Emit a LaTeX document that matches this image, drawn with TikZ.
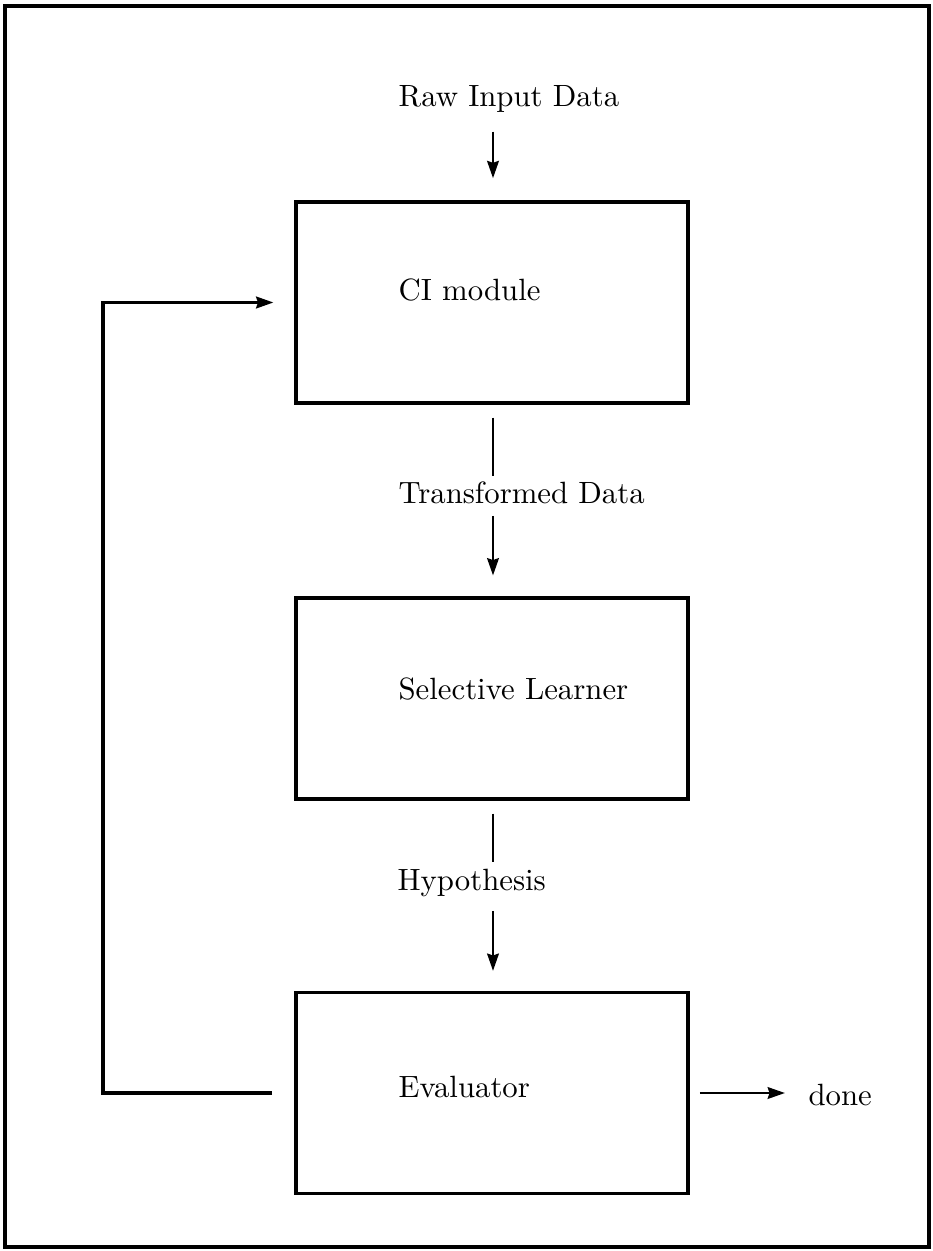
\documentclass[tikz,border=0pt]{standalone}
\usetikzlibrary{arrows.meta,calc}
\begin{document}
\begin{tikzpicture}[x=0.325pt,y=-0.325pt,
  box/.style={draw,line width=1.1pt,minimum width=127.4pt,minimum height=65.3pt,inner sep=0pt},
  lbl/.style={inner sep=0pt,anchor=base west,font=\fontsize{10}{12}\selectfont},
  conn/.style={line width=0.8pt},
  arr/.style={line width=0.8pt,-{Stealth[length=5.6pt,width=3.8pt,inset=0.6pt]}},
  frame/.style={line width=1pt}]
\useasboundingbox (0,0) rectangle (932,1251);
\draw[frame] (5,6) rectangle (929,1247);
% boxes
\node[box] (ci) at (492,302.5) {};
\node[box] (sl) at (492,698.5) {};
\node[box] (ev) at (492,1093) {};
% box labels
\node[lbl] (cil) at (398,301) {CI module};
\node[lbl] (sll) at (398,699) {Selective Learner};
\node[lbl] (evl) at (398,1097) {Evaluator};
% flow labels
\node[lbl] (raw) at (398,107) {Raw Input Data};
\node[lbl] (td) at (398,503) {Transformed Data};
\node[lbl] (hyp) at (397,890) {Hypothesis};
\node[lbl] (done) at (808,1105) {done};
% helper coordinates
\coordinate (ax) at (493,0);
\coordinate (fb) at (103,0);
% connectors
\draw[arr,shorten <=5.9pt,shorten >=7.2pt] (raw.south -| ax) -- (ci.north -| ax);
\draw[conn,shorten <=4.2pt,shorten >=1.5pt] (ci.south -| ax) -- (td.north -| ax);
\draw[arr,shorten <=3.9pt,shorten >=6.8pt] (td.south -| ax) -- (sl.north -| ax);
\draw[conn,shorten <=4.2pt,shorten >=2.1pt] (sl.south -| ax) -- (hyp.north -| ax);
\draw[arr,shorten <=4.5pt,shorten >=6.5pt] (hyp.south -| ax) -- (ev.north -| ax);
\draw[arr,shorten <=3.3pt,shorten >=7.5pt] (ev.east) -- (ev.east -| done.west);
\draw[arr,line width=1pt,shorten <=7.2pt,shorten >=6.8pt] (ev.west) -- (ev.west -| fb) -- (ci.west -| fb) -- (ci.west);
\end{tikzpicture}
\end{document}
